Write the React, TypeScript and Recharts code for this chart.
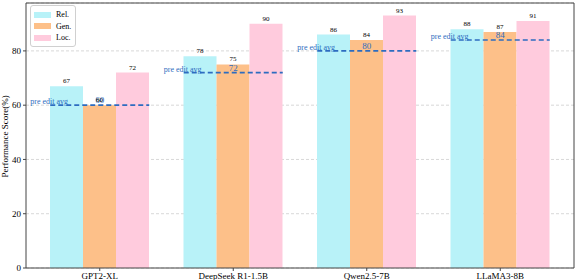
import React from "react";
import * as Recharts from "recharts";
import {
  ComposedChart,
  Bar,
  Scatter,
  XAxis,
  YAxis,
  CartesianGrid,
  Legend,
  LabelList,
} from "recharts";

const MODELS = ["GPT2-XL", "DeepSeek R1-1.5B", "Qwen2.5-7B", "LLaMA3-8B"];
const REL = [67, 78, 86, 88];
const GEN = [60, 75, 84, 87];
const LOC = [72, 90, 93, 91];
const PRE_EDIT_AVG = [60, 72, 80, 84];
const Y_TICKS = [0, 20, 40, 60, 80];
const Y_MAX = 97.65;

const SERIES = [
  { key: "rel", name: "Rel.", color: "#b8f2f8" },
  { key: "gen", name: "Gen.", color: "#fdc089" },
  { key: "loc", name: "Loc.", color: "#ffcbdd" },
];

const BAR_SIZE = 33;
const X_PAD = 7;
const AVG_COLOR = "#2d6cc0";
const FRAME = "#444";
const FONT = "'Liberation Serif', 'Times New Roman', serif";

const data = MODELS.map((m, i) => ({
  name: m,
  rel: REL[i],
  gen: GEN[i],
  loc: LOC[i],
  avg: PRE_EDIT_AVG[i],
}));

const R: any = Recharts;

// plot area from the chart's own layout (recharts 3 hooks)
function usePlotAreaSafe() {
  if (R.usePlotArea) return R.usePlotArea();
  const off = R.useOffset ? R.useOffset() : null;
  const w = R.useChartWidth ? R.useChartWidth() : null;
  const h = R.useChartHeight ? R.useChartHeight() : null;
  if (!off || w == null || h == null) return null;
  return {
    x: off.left,
    y: off.top,
    width: w - off.left - off.right,
    height: h - off.top - off.bottom,
  };
}

function Frame() {
  const area = usePlotAreaSafe();
  if (!area) return null;
  const { x, y, width, height } = area;
  return (
    <path
      d={`M${x},${y}H${x + width}V${y + height}`}
      stroke={FRAME}
      strokeWidth={1}
      fill="none"
    />
  );
}

function AvgMarker(props: any) {
  const { cx, cy, payload } = props;
  const half = BAR_SIZE * 1.5;
  return (
    <g>
      <line
        x1={cx - half}
        x2={cx + half}
        y1={cy}
        y2={cy}
        stroke={AVG_COLOR}
        strokeWidth={1.6}
        strokeDasharray="5 3"
      />
      <text
        x={cx - half - 20}
        y={cy - 1}
        fill={AVG_COLOR}
        fontSize={8}
        fontFamily={FONT}
      >
        pre edit avg
      </text>
      <text
        x={cx}
        y={cy - 2}
        fill={AVG_COLOR}
        fontSize={9}
        textAnchor="middle"
        fontFamily={FONT}
      >
        {payload.avg}
      </text>
    </g>
  );
}

function LegendBox() {
  return (
    <div
      style={{
        border: "1px solid #d0d0d0",
        borderRadius: 3,
        background: "rgba(255,255,255,0.85)",
        padding: "3px 4px 2px 3px",
        fontFamily: FONT,
        fontSize: 8,
        color: "#000",
        textAlign: "left",
      }}
    >
      {SERIES.map((s) => (
        <div
          key={s.key}
          style={{ display: "flex", alignItems: "center", height: 11.5 }}
        >
          <span
            style={{
              display: "inline-block",
              width: 17,
              height: 6,
              background: s.color,
              marginRight: 5,
            }}
          />
          {s.name}
        </div>
      ))}
    </div>
  );
}

export default function App() {
  return (
    <div style={{ position: "absolute", left: 0, top: 0, background: "#fff" }}>
      <ComposedChart
        width={576}
        height={280}
        data={data}
        margin={{ top: 3, right: 2, bottom: 0, left: 0 }}
        barGap={0}
        style={{ fontFamily: FONT }}
      >
        <CartesianGrid
          vertical={false}
          stroke="#d8d8d8"
          strokeDasharray="3 2"
        />
        <XAxis
          dataKey="name"
          height={12}
          padding={{ left: X_PAD, right: X_PAD }}
          stroke={FRAME}
          tickSize={3}
          tick={{ fontSize: 9, fill: "#000", fontFamily: FONT }}
          interval={0}
        />
        <YAxis
          width={26}
          domain={[0, Y_MAX]}
          ticks={Y_TICKS}
          stroke={FRAME}
          tickSize={3}
          tick={{ fontSize: 9, fill: "#000", fontFamily: FONT }}
          label={{
            value: "Performance Score(%)",
            angle: -90,
            position: "insideLeft",
            dy: 42,
            style: { fontSize: 9, fill: "#000", fontFamily: FONT },
          }}
        />
        <Legend
          content={() => <LegendBox />}
          layout="horizontal"
          verticalAlign="middle"
          align="center"
          wrapperStyle={{ top: 5, left: 30, width: "auto" }}
        />
        {SERIES.map((s) => (
          <Bar
            key={s.key}
            dataKey={s.key}
            name={s.name}
            fill={s.color}
            barSize={BAR_SIZE}
            isAnimationActive={false}
          >
            <LabelList
              dataKey={s.key}
              position="top"
              offset={3}
              style={{ fontSize: 7, fill: "#000", fontFamily: FONT }}
            />
          </Bar>
        ))}
        <Scatter
          dataKey="avg"
          shape={AvgMarker}
          legendType="none"
          isAnimationActive={false}
        />
        <Frame />
      </ComposedChart>
    </div>
  );
}
